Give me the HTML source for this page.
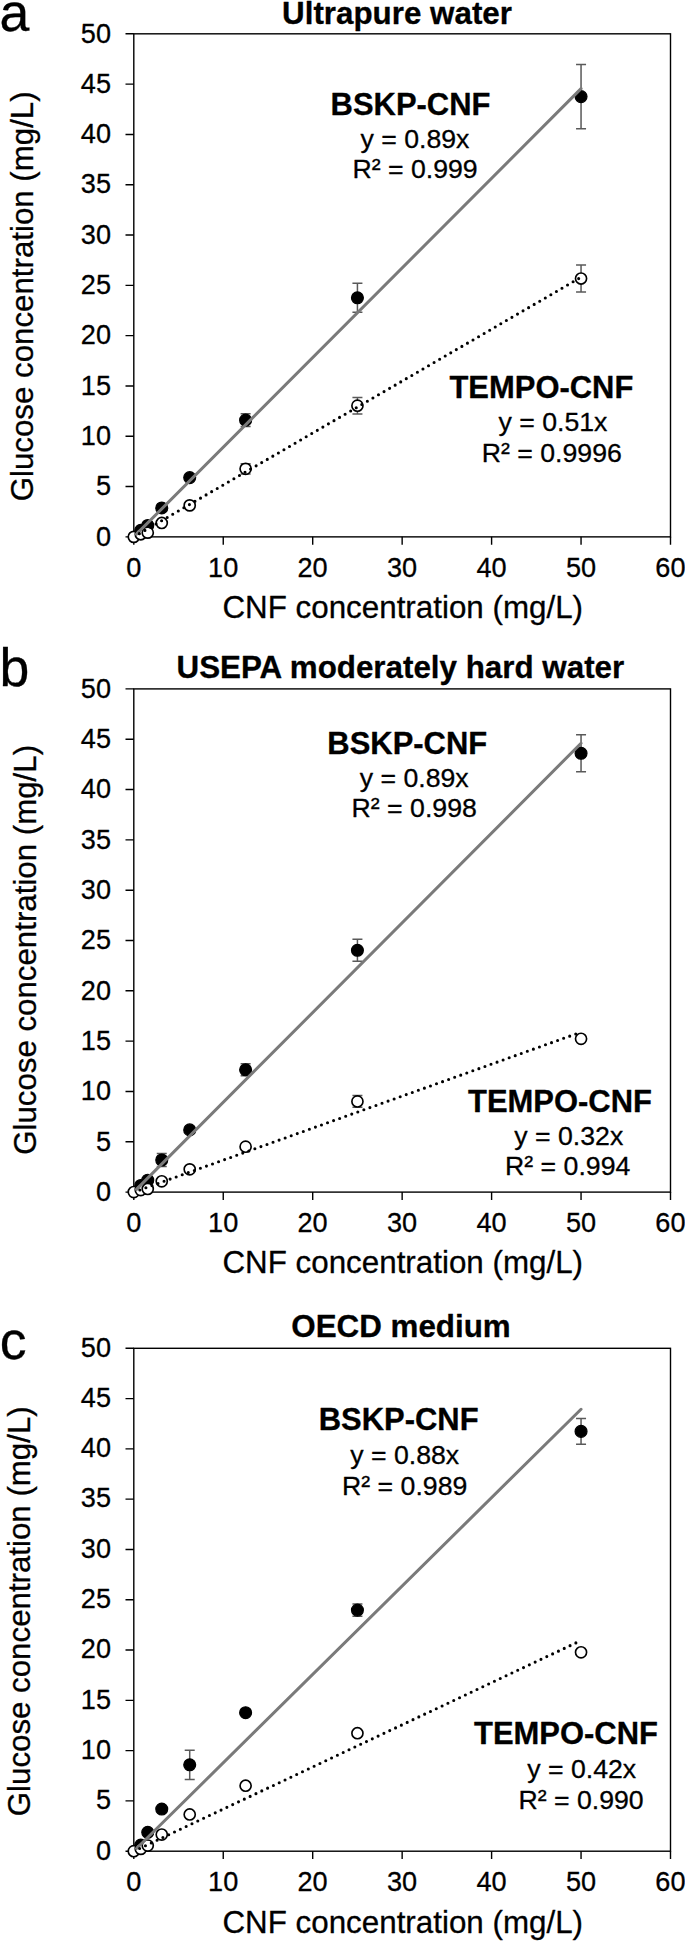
<!DOCTYPE html>
<html lang="en"><head><meta charset="utf-8"><title>Glucose concentration vs CNF concentration</title>
<style>
html,body{margin:0;padding:0;background:#fff;}
body{width:685px;height:1942px;overflow:hidden;}
svg{display:block;}
text{font-family:"Liberation Sans",sans-serif;fill:#000;stroke:#000;stroke-width:0.3px;stroke-linejoin:round;}
.r{font-size:26.67px;}
.k{font-size:27.1px;}
.t{font-size:31.35px;}
.bt{font-size:31.35px;font-weight:bold;stroke-width:0.3px;}
.b{font-size:30.95px;font-weight:bold;stroke-width:0.3px;}
.l{font-size:53.6px;}
.ax{stroke:#000;stroke-width:1.4;fill:none;}
.eb{stroke:#595959;stroke-width:1.5;fill:none;}
.tl{stroke:#7a7a7a;stroke-width:3.0;fill:none;stroke-linecap:round;}
.dl{stroke:#000;stroke-width:3.1;fill:none;stroke-linecap:round;stroke-dasharray:0 6.43;}
.fc{fill:#000;stroke:#000;stroke-width:1.2;}
.oc{fill:#fff;stroke:#000;stroke-width:1.65;}
</style></head><body>
<svg width="685" height="1942" viewBox="0 0 685 1942">
<rect x="0" y="0" width="685" height="1942" fill="#fff"/>
<g>
<text class="l" x="-0.6" y="31.0">a</text>
<text class="bt" x="397.0" y="23.8" text-anchor="middle">Ultrapure water</text>
<rect class="ax" x="133.8" y="33.82" width="536.7" height="503.05"/>
<path class="ax" d="M125.50,536.87H133.8M125.50,486.56H133.8M125.50,436.26H133.8M125.50,385.96H133.8M125.50,335.65H133.8M125.50,285.35H133.8M125.50,235.04H133.8M125.50,184.74H133.8M125.50,134.43H133.8M125.50,84.12H133.8M125.50,33.82H133.8M133.80,536.87V544.67M223.25,536.87V544.67M312.70,536.87V544.67M402.15,536.87V544.67M491.60,536.87V544.67M581.05,536.87V544.67M670.50,536.87V544.67"/>
<text class="k" x="111.0" y="545.62" text-anchor="end">0</text>
<text class="k" x="111.0" y="495.31" text-anchor="end">5</text>
<text class="k" x="111.0" y="445.01" text-anchor="end">10</text>
<text class="k" x="111.0" y="394.71" text-anchor="end">15</text>
<text class="k" x="111.0" y="344.40" text-anchor="end">20</text>
<text class="k" x="111.0" y="294.10" text-anchor="end">25</text>
<text class="k" x="111.0" y="243.79" text-anchor="end">30</text>
<text class="k" x="111.0" y="193.49" text-anchor="end">35</text>
<text class="k" x="111.0" y="143.18" text-anchor="end">40</text>
<text class="k" x="111.0" y="92.88" text-anchor="end">45</text>
<text class="k" x="111.0" y="42.57" text-anchor="end">50</text>
<text class="k" x="133.70" y="576.77" text-anchor="middle">0</text>
<text class="k" x="223.15" y="576.77" text-anchor="middle">10</text>
<text class="k" x="312.60" y="576.77" text-anchor="middle">20</text>
<text class="k" x="402.05" y="576.77" text-anchor="middle">30</text>
<text class="k" x="491.50" y="576.77" text-anchor="middle">40</text>
<text class="k" x="580.95" y="576.77" text-anchor="middle">50</text>
<text class="k" x="670.40" y="576.77" text-anchor="middle">60</text>
<text class="t" style="font-size:31.25px" transform="translate(33.3,296.35) rotate(-90)" text-anchor="middle">Glucose concentration (mg/L)</text>
<text class="t" x="402.75" y="618.17" text-anchor="middle">CNF concentration (mg/L)</text>
<path class="eb" d="M245.61,413.82V426.50M240.61,413.82h10M240.61,426.50h10M357.43,283.33V312.31M352.43,283.33h10M352.43,312.31h10M581.05,64.41V128.80M576.05,64.41h10M576.05,128.80h10M245.61,463.63V474.09M240.61,463.63h10M240.61,474.09h10M357.43,397.42V413.92M352.43,397.42h10M352.43,413.92h10M581.05,265.12V291.88M576.05,265.12h10M576.05,291.88h10"/>
<circle class="fc" cx="140.78" cy="530.33" r="5.95"/>
<circle class="fc" cx="147.75" cy="525.50" r="5.95"/>
<circle class="fc" cx="161.75" cy="507.99" r="5.95"/>
<circle class="fc" cx="189.71" cy="477.61" r="5.95"/>
<circle class="fc" cx="245.61" cy="420.16" r="5.95"/>
<circle class="fc" cx="357.43" cy="297.82" r="5.95"/>
<circle class="fc" cx="581.05" cy="96.60" r="5.95"/>
<circle class="oc" cx="133.80" cy="536.87" r="5.55"/>
<circle class="oc" cx="140.78" cy="534.25" r="5.55"/>
<circle class="oc" cx="147.75" cy="532.64" r="5.55"/>
<circle class="oc" cx="161.75" cy="522.99" r="5.55"/>
<circle class="oc" cx="189.71" cy="505.38" r="5.55"/>
<circle class="oc" cx="245.61" cy="468.86" r="5.55"/>
<circle class="oc" cx="357.43" cy="405.67" r="5.55"/>
<circle class="oc" cx="581.05" cy="278.50" r="5.55"/>
<line class="tl" x1="136.48" y1="534.18" x2="581.05" y2="88.65"/>
<line class="dl" x1="139.36" y1="533.64" x2="581.05" y2="277.20"/>
<text class="b" x="410.5" y="114.7" text-anchor="middle">BSKP-CNF</text>
<text class="r" x="415" y="147.80" text-anchor="middle">y = 0.89x</text>
<text class="r" x="415" y="178.20" text-anchor="middle">R² = 0.999</text>
<text class="b" x="541.4" y="398" text-anchor="middle">TEMPO-CNF</text>
<text class="r" x="553" y="431.10" text-anchor="middle">y = 0.51x</text>
<text class="r" x="551.8" y="461.50" text-anchor="middle">R² = 0.9996</text>
</g>
<g>
<text class="l" x="-0.6" y="686.0">b</text>
<text class="bt" x="400.4" y="678.2" text-anchor="middle">USEPA moderately hard water</text>
<rect class="ax" x="133.8" y="688.9" width="536.7" height="503.2"/>
<path class="ax" d="M125.50,1192.10H133.8M125.50,1141.78H133.8M125.50,1091.46H133.8M125.50,1041.14H133.8M125.50,990.82H133.8M125.50,940.50H133.8M125.50,890.18H133.8M125.50,839.86H133.8M125.50,789.54H133.8M125.50,739.22H133.8M125.50,688.90H133.8M133.80,1192.1V1199.8999999999999M223.25,1192.1V1199.8999999999999M312.70,1192.1V1199.8999999999999M402.15,1192.1V1199.8999999999999M491.60,1192.1V1199.8999999999999M581.05,1192.1V1199.8999999999999M670.50,1192.1V1199.8999999999999"/>
<text class="k" x="111.0" y="1200.85" text-anchor="end">0</text>
<text class="k" x="111.0" y="1150.53" text-anchor="end">5</text>
<text class="k" x="111.0" y="1100.21" text-anchor="end">10</text>
<text class="k" x="111.0" y="1049.89" text-anchor="end">15</text>
<text class="k" x="111.0" y="999.57" text-anchor="end">20</text>
<text class="k" x="111.0" y="949.25" text-anchor="end">25</text>
<text class="k" x="111.0" y="898.93" text-anchor="end">30</text>
<text class="k" x="111.0" y="848.61" text-anchor="end">35</text>
<text class="k" x="111.0" y="798.29" text-anchor="end">40</text>
<text class="k" x="111.0" y="747.97" text-anchor="end">45</text>
<text class="k" x="111.0" y="697.65" text-anchor="end">50</text>
<text class="k" x="133.70" y="1232.00" text-anchor="middle">0</text>
<text class="k" x="223.15" y="1232.00" text-anchor="middle">10</text>
<text class="k" x="312.60" y="1232.00" text-anchor="middle">20</text>
<text class="k" x="402.05" y="1232.00" text-anchor="middle">30</text>
<text class="k" x="491.50" y="1232.00" text-anchor="middle">40</text>
<text class="k" x="580.95" y="1232.00" text-anchor="middle">50</text>
<text class="k" x="670.40" y="1232.00" text-anchor="middle">60</text>
<text class="t" style="font-size:31.25px" transform="translate(36.1,949.90) rotate(-90)" text-anchor="middle">Glucose concentration (mg/L)</text>
<text class="t" x="402.75" y="1273.40" text-anchor="middle">CNF concentration (mg/L)</text>
<path class="eb" d="M161.75,1153.55V1166.44M156.75,1153.55h10M156.75,1166.44h10M245.61,1063.78V1075.86M240.61,1063.78h10M240.61,1075.86h10M357.43,939.29V961.23M352.43,939.29h10M352.43,961.23h10M581.05,734.79V771.83M576.05,734.79h10M576.05,771.83h10M357.43,1095.49V1107.36M352.43,1095.49h10M352.43,1107.36h10"/>
<circle class="fc" cx="140.78" cy="1185.46" r="5.95"/>
<circle class="fc" cx="147.75" cy="1180.22" r="5.95"/>
<circle class="fc" cx="161.75" cy="1160.00" r="5.95"/>
<circle class="fc" cx="189.71" cy="1129.90" r="5.95"/>
<circle class="fc" cx="245.61" cy="1069.82" r="5.95"/>
<circle class="fc" cx="357.43" cy="950.26" r="5.95"/>
<circle class="fc" cx="581.05" cy="753.31" r="5.95"/>
<circle class="oc" cx="133.80" cy="1192.10" r="5.55"/>
<circle class="oc" cx="140.78" cy="1190.09" r="5.55"/>
<circle class="oc" cx="147.75" cy="1188.98" r="5.55"/>
<circle class="oc" cx="161.75" cy="1181.33" r="5.55"/>
<circle class="oc" cx="189.71" cy="1169.36" r="5.55"/>
<circle class="oc" cx="245.61" cy="1146.71" r="5.55"/>
<circle class="oc" cx="357.43" cy="1101.42" r="5.55"/>
<circle class="oc" cx="581.05" cy="1038.83" r="5.55"/>
<line class="tl" x1="136.48" y1="1189.41" x2="581.05" y2="743.25"/>
<line class="dl" x1="139.85" y1="1189.93" x2="581.05" y2="1032.08"/>
<text class="b" x="407.25" y="753.9" text-anchor="middle">BSKP-CNF</text>
<text class="r" x="414.2" y="786.70" text-anchor="middle">y = 0.89x</text>
<text class="r" x="414.2" y="817.10" text-anchor="middle">R² = 0.998</text>
<text class="b" x="560" y="1112" text-anchor="middle">TEMPO-CNF</text>
<text class="r" x="568.8" y="1145.10" text-anchor="middle">y = 0.32x</text>
<text class="r" x="567.7" y="1174.90" text-anchor="middle">R² = 0.994</text>
</g>
<g>
<text class="l" x="-0.3" y="1359.4">c</text>
<text class="bt" x="401.0" y="1337.3" text-anchor="middle">OECD medium</text>
<rect class="ax" x="133.8" y="1348.3" width="536.7" height="502.9"/>
<path class="ax" d="M125.50,1851.20H133.8M125.50,1800.91H133.8M125.50,1750.62H133.8M125.50,1700.33H133.8M125.50,1650.04H133.8M125.50,1599.75H133.8M125.50,1549.46H133.8M125.50,1499.17H133.8M125.50,1448.88H133.8M125.50,1398.59H133.8M125.50,1348.30H133.8M133.80,1851.1999999999998V1858.9999999999998M223.25,1851.1999999999998V1858.9999999999998M312.70,1851.1999999999998V1858.9999999999998M402.15,1851.1999999999998V1858.9999999999998M491.60,1851.1999999999998V1858.9999999999998M581.05,1851.1999999999998V1858.9999999999998M670.50,1851.1999999999998V1858.9999999999998"/>
<text class="k" x="111.0" y="1859.50" text-anchor="end">0</text>
<text class="k" x="111.0" y="1809.21" text-anchor="end">5</text>
<text class="k" x="111.0" y="1758.92" text-anchor="end">10</text>
<text class="k" x="111.0" y="1708.63" text-anchor="end">15</text>
<text class="k" x="111.0" y="1658.34" text-anchor="end">20</text>
<text class="k" x="111.0" y="1608.05" text-anchor="end">25</text>
<text class="k" x="111.0" y="1557.76" text-anchor="end">30</text>
<text class="k" x="111.0" y="1507.47" text-anchor="end">35</text>
<text class="k" x="111.0" y="1457.18" text-anchor="end">40</text>
<text class="k" x="111.0" y="1406.89" text-anchor="end">45</text>
<text class="k" x="111.0" y="1356.60" text-anchor="end">50</text>
<text class="k" x="133.70" y="1891.10" text-anchor="middle">0</text>
<text class="k" x="223.15" y="1891.10" text-anchor="middle">10</text>
<text class="k" x="312.60" y="1891.10" text-anchor="middle">20</text>
<text class="k" x="402.05" y="1891.10" text-anchor="middle">30</text>
<text class="k" x="491.50" y="1891.10" text-anchor="middle">40</text>
<text class="k" x="580.95" y="1891.10" text-anchor="middle">50</text>
<text class="k" x="670.40" y="1891.10" text-anchor="middle">60</text>
<text class="t" style="font-size:31.25px" transform="translate(30.05,1611.25) rotate(-90)" text-anchor="middle">Glucose concentration (mg/L)</text>
<text class="t" x="402.75" y="1932.50" text-anchor="middle">CNF concentration (mg/L)</text>
<path class="eb" d="M189.71,1750.22V1779.39M184.71,1750.22h10M184.71,1779.39h10M357.43,1603.97V1616.25M352.43,1603.97h10M352.43,1616.25h10M581.05,1418.61V1444.15M576.05,1418.61h10M576.05,1444.15h10"/>
<circle class="fc" cx="140.78" cy="1845.06" r="5.95"/>
<circle class="fc" cx="147.75" cy="1832.29" r="5.95"/>
<circle class="fc" cx="161.75" cy="1809.06" r="5.95"/>
<circle class="fc" cx="189.71" cy="1764.80" r="5.95"/>
<circle class="fc" cx="245.61" cy="1712.70" r="5.95"/>
<circle class="fc" cx="357.43" cy="1610.11" r="5.95"/>
<circle class="fc" cx="581.05" cy="1431.38" r="5.95"/>
<circle class="oc" cx="133.80" cy="1851.20" r="5.55"/>
<circle class="oc" cx="140.78" cy="1848.89" r="5.55"/>
<circle class="oc" cx="147.75" cy="1845.57" r="5.55"/>
<circle class="oc" cx="161.75" cy="1834.60" r="5.55"/>
<circle class="oc" cx="189.71" cy="1814.49" r="5.55"/>
<circle class="oc" cx="245.61" cy="1785.72" r="5.55"/>
<circle class="oc" cx="357.43" cy="1733.22" r="5.55"/>
<circle class="oc" cx="581.05" cy="1652.35" r="5.55"/>
<line class="tl" x1="136.50" y1="1848.53" x2="581.05" y2="1409.25"/>
<line class="dl" x1="139.62" y1="1848.46" x2="581.05" y2="1640.48"/>
<text class="b" x="398.7" y="1429.6" text-anchor="middle">BSKP-CNF</text>
<text class="r" x="404.7" y="1464.10" text-anchor="middle">y = 0.88x</text>
<text class="r" x="404.7" y="1494.50" text-anchor="middle">R² = 0.989</text>
<text class="b" x="566" y="1743.6" text-anchor="middle">TEMPO-CNF</text>
<text class="r" x="581.7" y="1778.30" text-anchor="middle">y = 0.42x</text>
<text class="r" x="581.0" y="1809.20" text-anchor="middle">R² = 0.990</text>
</g>
</svg></body></html>
